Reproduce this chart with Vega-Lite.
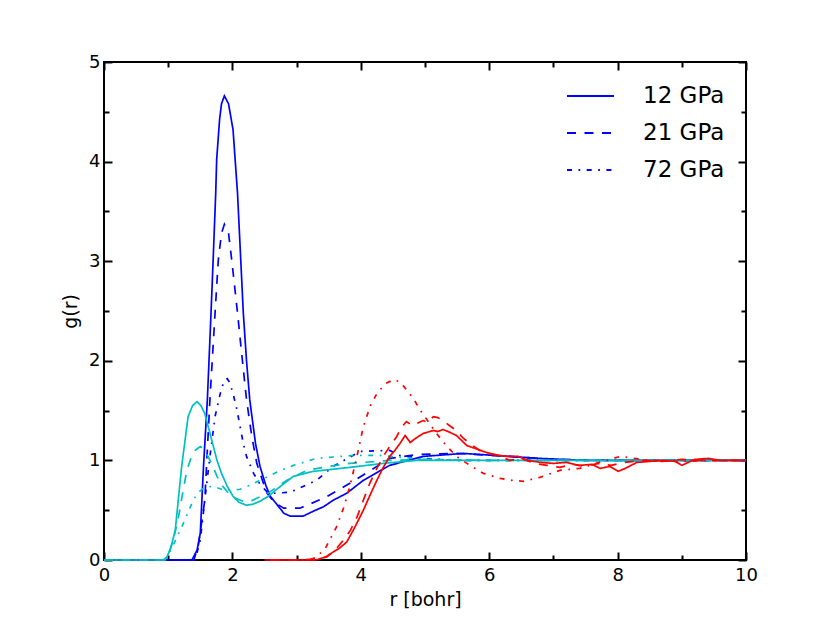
{
  "$schema": "https://vega.github.io/schema/vega-lite/v6.json",
  "description": "Radial distribution functions g(r) at three pressures",
  "width": 642,
  "height": 498,
  "autosize": {"type": "none"},
  "padding": {"left": 104, "top": 62, "right": 84, "bottom": 63},
  "config": {
    "font": "DejaVu Sans",
    "view": {"stroke": "black", "strokeWidth": 2},
    "axis": {
      "grid": false,
      "domain": false,
      "tickColor": "black",
      "tickWidth": 2,
      "labelColor": "black",
      "labelFontSize": 18,
      "labelFlush": false,
      "labelOverlap": false,
      "titleColor": "black",
      "titleFontSize": 19,
      "titleFontWeight": "normal"
    }
  },
  "data": {
    "values": [
      {"group": "blue", "pressure": "12 GPa", "r": 0, "g": 0},
      {"group": "blue", "pressure": "12 GPa", "r": 1.37, "g": 0},
      {"group": "blue", "pressure": "12 GPa", "r": 1.45, "g": 0.1},
      {"group": "blue", "pressure": "12 GPa", "r": 1.5, "g": 0.27},
      {"group": "blue", "pressure": "12 GPa", "r": 1.55, "g": 0.94},
      {"group": "blue", "pressure": "12 GPa", "r": 1.61, "g": 1.61},
      {"group": "blue", "pressure": "12 GPa", "r": 1.667, "g": 2.48},
      {"group": "blue", "pressure": "12 GPa", "r": 1.7, "g": 3.01},
      {"group": "blue", "pressure": "12 GPa", "r": 1.74, "g": 3.68},
      {"group": "blue", "pressure": "12 GPa", "r": 1.755, "g": 4.02},
      {"group": "blue", "pressure": "12 GPa", "r": 1.8, "g": 4.42},
      {"group": "blue", "pressure": "12 GPa", "r": 1.83, "g": 4.58},
      {"group": "blue", "pressure": "12 GPa", "r": 1.875, "g": 4.66},
      {"group": "blue", "pressure": "12 GPa", "r": 1.94, "g": 4.58},
      {"group": "blue", "pressure": "12 GPa", "r": 2.01, "g": 4.32},
      {"group": "blue", "pressure": "12 GPa", "r": 2.08, "g": 3.68},
      {"group": "blue", "pressure": "12 GPa", "r": 2.17, "g": 2.48},
      {"group": "blue", "pressure": "12 GPa", "r": 2.22, "g": 2.0},
      {"group": "blue", "pressure": "12 GPa", "r": 2.27, "g": 1.61},
      {"group": "blue", "pressure": "12 GPa", "r": 2.36, "g": 1.17},
      {"group": "blue", "pressure": "12 GPa", "r": 2.43, "g": 0.94},
      {"group": "blue", "pressure": "12 GPa", "r": 2.52, "g": 0.75},
      {"group": "blue", "pressure": "12 GPa", "r": 2.59, "g": 0.64},
      {"group": "blue", "pressure": "12 GPa", "r": 2.74, "g": 0.52},
      {"group": "blue", "pressure": "12 GPa", "r": 2.8, "g": 0.47},
      {"group": "blue", "pressure": "12 GPa", "r": 2.9, "g": 0.44},
      {"group": "blue", "pressure": "12 GPa", "r": 3.1, "g": 0.44},
      {"group": "blue", "pressure": "12 GPa", "r": 3.26, "g": 0.49},
      {"group": "blue", "pressure": "12 GPa", "r": 3.42, "g": 0.535},
      {"group": "blue", "pressure": "12 GPa", "r": 3.57, "g": 0.6},
      {"group": "blue", "pressure": "12 GPa", "r": 3.78, "g": 0.67},
      {"group": "blue", "pressure": "12 GPa", "r": 4.04, "g": 0.8},
      {"group": "blue", "pressure": "12 GPa", "r": 4.45, "g": 0.95},
      {"group": "blue", "pressure": "12 GPa", "r": 4.97, "g": 1.04},
      {"group": "blue", "pressure": "12 GPa", "r": 5.6, "g": 1.07},
      {"group": "blue", "pressure": "12 GPa", "r": 6.32, "g": 1.04},
      {"group": "blue", "pressure": "12 GPa", "r": 6.8, "g": 1.02},
      {"group": "blue", "pressure": "12 GPa", "r": 7.5, "g": 1.0},
      {"group": "blue", "pressure": "12 GPa", "r": 8.5, "g": 1.0},
      {"group": "blue", "pressure": "12 GPa", "r": 10, "g": 1.0},

      {"group": "blue", "pressure": "21 GPa", "r": 0, "g": 0},
      {"group": "blue", "pressure": "21 GPa", "r": 1.4, "g": 0},
      {"group": "blue", "pressure": "21 GPa", "r": 1.47, "g": 0.15},
      {"group": "blue", "pressure": "21 GPa", "r": 1.57, "g": 0.6},
      {"group": "blue", "pressure": "21 GPa", "r": 1.65, "g": 1.61},
      {"group": "blue", "pressure": "21 GPa", "r": 1.73, "g": 2.48},
      {"group": "blue", "pressure": "21 GPa", "r": 1.78, "g": 3.01},
      {"group": "blue", "pressure": "21 GPa", "r": 1.83, "g": 3.28},
      {"group": "blue", "pressure": "21 GPa", "r": 1.875, "g": 3.37},
      {"group": "blue", "pressure": "21 GPa", "r": 1.94, "g": 3.28},
      {"group": "blue", "pressure": "21 GPa", "r": 1.99, "g": 3.01},
      {"group": "blue", "pressure": "21 GPa", "r": 2.08, "g": 2.48},
      {"group": "blue", "pressure": "21 GPa", "r": 2.14, "g": 2.1},
      {"group": "blue", "pressure": "21 GPa", "r": 2.22, "g": 1.61},
      {"group": "blue", "pressure": "21 GPa", "r": 2.3, "g": 1.25},
      {"group": "blue", "pressure": "21 GPa", "r": 2.38, "g": 0.97},
      {"group": "blue", "pressure": "21 GPa", "r": 2.53, "g": 0.68},
      {"group": "blue", "pressure": "21 GPa", "r": 2.65, "g": 0.58},
      {"group": "blue", "pressure": "21 GPa", "r": 2.8, "g": 0.52},
      {"group": "blue", "pressure": "21 GPa", "r": 3.05, "g": 0.52},
      {"group": "blue", "pressure": "21 GPa", "r": 3.2, "g": 0.56},
      {"group": "blue", "pressure": "21 GPa", "r": 3.47, "g": 0.635},
      {"group": "blue", "pressure": "21 GPa", "r": 3.83, "g": 0.77},
      {"group": "blue", "pressure": "21 GPa", "r": 4.25, "g": 0.94},
      {"group": "blue", "pressure": "21 GPa", "r": 4.45, "g": 1.02},
      {"group": "blue", "pressure": "21 GPa", "r": 4.9, "g": 1.06},
      {"group": "blue", "pressure": "21 GPa", "r": 5.5, "g": 1.07},
      {"group": "blue", "pressure": "21 GPa", "r": 6.3, "g": 1.04},
      {"group": "blue", "pressure": "21 GPa", "r": 7.0, "g": 1.01},
      {"group": "blue", "pressure": "21 GPa", "r": 8.0, "g": 1.0},
      {"group": "blue", "pressure": "21 GPa", "r": 10, "g": 1.0},

      {"group": "blue", "pressure": "72 GPa", "r": 0, "g": 0},
      {"group": "blue", "pressure": "72 GPa", "r": 1.42, "g": 0},
      {"group": "blue", "pressure": "72 GPa", "r": 1.5, "g": 0.2},
      {"group": "blue", "pressure": "72 GPa", "r": 1.57, "g": 0.6},
      {"group": "blue", "pressure": "72 GPa", "r": 1.65, "g": 1.04},
      {"group": "blue", "pressure": "72 GPa", "r": 1.73, "g": 1.44},
      {"group": "blue", "pressure": "72 GPa", "r": 1.81, "g": 1.67},
      {"group": "blue", "pressure": "72 GPa", "r": 1.87, "g": 1.8},
      {"group": "blue", "pressure": "72 GPa", "r": 1.92, "g": 1.82},
      {"group": "blue", "pressure": "72 GPa", "r": 1.96, "g": 1.78},
      {"group": "blue", "pressure": "72 GPa", "r": 2.01, "g": 1.67},
      {"group": "blue", "pressure": "72 GPa", "r": 2.07, "g": 1.51},
      {"group": "blue", "pressure": "72 GPa", "r": 2.12, "g": 1.34},
      {"group": "blue", "pressure": "72 GPa", "r": 2.17, "g": 1.17},
      {"group": "blue", "pressure": "72 GPa", "r": 2.22, "g": 1.04},
      {"group": "blue", "pressure": "72 GPa", "r": 2.33, "g": 0.87},
      {"group": "blue", "pressure": "72 GPa", "r": 2.43, "g": 0.76},
      {"group": "blue", "pressure": "72 GPa", "r": 2.53, "g": 0.69},
      {"group": "blue", "pressure": "72 GPa", "r": 2.64, "g": 0.67},
      {"group": "blue", "pressure": "72 GPa", "r": 2.9, "g": 0.68},
      {"group": "blue", "pressure": "72 GPa", "r": 3.31, "g": 0.8},
      {"group": "blue", "pressure": "72 GPa", "r": 3.57, "g": 0.94},
      {"group": "blue", "pressure": "72 GPa", "r": 3.99, "g": 1.09},
      {"group": "blue", "pressure": "72 GPa", "r": 4.45, "g": 1.1},
      {"group": "blue", "pressure": "72 GPa", "r": 4.6, "g": 1.05},
      {"group": "blue", "pressure": "72 GPa", "r": 5.0, "g": 1.02},
      {"group": "blue", "pressure": "72 GPa", "r": 5.5, "g": 1.0},
      {"group": "blue", "pressure": "72 GPa", "r": 6.5, "g": 1.0},
      {"group": "blue", "pressure": "72 GPa", "r": 6.7, "g": 1.02},
      {"group": "blue", "pressure": "72 GPa", "r": 7.0, "g": 1.0},
      {"group": "blue", "pressure": "72 GPa", "r": 10, "g": 1.0},

      {"group": "cyan", "pressure": "12 GPa", "r": 0, "g": 0},
      {"group": "cyan", "pressure": "12 GPa", "r": 0.92, "g": 0},
      {"group": "cyan", "pressure": "12 GPa", "r": 0.98, "g": 0.03},
      {"group": "cyan", "pressure": "12 GPa", "r": 1.04, "g": 0.12},
      {"group": "cyan", "pressure": "12 GPa", "r": 1.11, "g": 0.3},
      {"group": "cyan", "pressure": "12 GPa", "r": 1.21, "g": 0.94},
      {"group": "cyan", "pressure": "12 GPa", "r": 1.31, "g": 1.44},
      {"group": "cyan", "pressure": "12 GPa", "r": 1.38, "g": 1.55},
      {"group": "cyan", "pressure": "12 GPa", "r": 1.45, "g": 1.59},
      {"group": "cyan", "pressure": "12 GPa", "r": 1.51, "g": 1.55},
      {"group": "cyan", "pressure": "12 GPa", "r": 1.57, "g": 1.47},
      {"group": "cyan", "pressure": "12 GPa", "r": 1.68, "g": 1.2},
      {"group": "cyan", "pressure": "12 GPa", "r": 1.76, "g": 1.0},
      {"group": "cyan", "pressure": "12 GPa", "r": 1.83, "g": 0.87},
      {"group": "cyan", "pressure": "12 GPa", "r": 1.92, "g": 0.74},
      {"group": "cyan", "pressure": "12 GPa", "r": 2.01, "g": 0.64},
      {"group": "cyan", "pressure": "12 GPa", "r": 2.1, "g": 0.58},
      {"group": "cyan", "pressure": "12 GPa", "r": 2.22, "g": 0.55},
      {"group": "cyan", "pressure": "12 GPa", "r": 2.32, "g": 0.56},
      {"group": "cyan", "pressure": "12 GPa", "r": 2.43, "g": 0.59},
      {"group": "cyan", "pressure": "12 GPa", "r": 2.56, "g": 0.64},
      {"group": "cyan", "pressure": "12 GPa", "r": 2.69, "g": 0.71},
      {"group": "cyan", "pressure": "12 GPa", "r": 2.95, "g": 0.84},
      {"group": "cyan", "pressure": "12 GPa", "r": 3.26, "g": 0.89},
      {"group": "cyan", "pressure": "12 GPa", "r": 3.83, "g": 0.93},
      {"group": "cyan", "pressure": "12 GPa", "r": 4.35, "g": 0.97},
      {"group": "cyan", "pressure": "12 GPa", "r": 4.87, "g": 1.0},
      {"group": "cyan", "pressure": "12 GPa", "r": 6.5, "g": 1.0},
      {"group": "cyan", "pressure": "12 GPa", "r": 10, "g": 1.0},

      {"group": "cyan", "pressure": "21 GPa", "r": 0, "g": 0},
      {"group": "cyan", "pressure": "21 GPa", "r": 0.95, "g": 0},
      {"group": "cyan", "pressure": "21 GPa", "r": 1.0, "g": 0.05},
      {"group": "cyan", "pressure": "21 GPa", "r": 1.08, "g": 0.2},
      {"group": "cyan", "pressure": "21 GPa", "r": 1.16, "g": 0.43},
      {"group": "cyan", "pressure": "21 GPa", "r": 1.22, "g": 0.65},
      {"group": "cyan", "pressure": "21 GPa", "r": 1.29, "g": 0.9},
      {"group": "cyan", "pressure": "21 GPa", "r": 1.37, "g": 1.05},
      {"group": "cyan", "pressure": "21 GPa", "r": 1.42, "g": 1.1},
      {"group": "cyan", "pressure": "21 GPa", "r": 1.5, "g": 1.14},
      {"group": "cyan", "pressure": "21 GPa", "r": 1.56, "g": 1.11},
      {"group": "cyan", "pressure": "21 GPa", "r": 1.62, "g": 1.04},
      {"group": "cyan", "pressure": "21 GPa", "r": 1.69, "g": 0.95},
      {"group": "cyan", "pressure": "21 GPa", "r": 1.76, "g": 0.84},
      {"group": "cyan", "pressure": "21 GPa", "r": 1.85, "g": 0.74},
      {"group": "cyan", "pressure": "21 GPa", "r": 1.94, "g": 0.67},
      {"group": "cyan", "pressure": "21 GPa", "r": 2.05, "g": 0.62},
      {"group": "cyan", "pressure": "21 GPa", "r": 2.17, "g": 0.59},
      {"group": "cyan", "pressure": "21 GPa", "r": 2.27, "g": 0.585},
      {"group": "cyan", "pressure": "21 GPa", "r": 2.38, "g": 0.62},
      {"group": "cyan", "pressure": "21 GPa", "r": 2.53, "g": 0.66},
      {"group": "cyan", "pressure": "21 GPa", "r": 2.69, "g": 0.73},
      {"group": "cyan", "pressure": "21 GPa", "r": 2.85, "g": 0.8},
      {"group": "cyan", "pressure": "21 GPa", "r": 3.16, "g": 0.9},
      {"group": "cyan", "pressure": "21 GPa", "r": 3.5, "g": 0.94},
      {"group": "cyan", "pressure": "21 GPa", "r": 3.83, "g": 0.97},
      {"group": "cyan", "pressure": "21 GPa", "r": 4.45, "g": 1.0},
      {"group": "cyan", "pressure": "21 GPa", "r": 5.0, "g": 1.01},
      {"group": "cyan", "pressure": "21 GPa", "r": 6.0, "g": 1.0},
      {"group": "cyan", "pressure": "21 GPa", "r": 10, "g": 1.0},

      {"group": "cyan", "pressure": "72 GPa", "r": 0, "g": 0},
      {"group": "cyan", "pressure": "72 GPa", "r": 0.95, "g": 0},
      {"group": "cyan", "pressure": "72 GPa", "r": 1.0, "g": 0.05},
      {"group": "cyan", "pressure": "72 GPa", "r": 1.1, "g": 0.18},
      {"group": "cyan", "pressure": "72 GPa", "r": 1.21, "g": 0.33},
      {"group": "cyan", "pressure": "72 GPa", "r": 1.31, "g": 0.48},
      {"group": "cyan", "pressure": "72 GPa", "r": 1.39, "g": 0.6},
      {"group": "cyan", "pressure": "72 GPa", "r": 1.47, "g": 0.68},
      {"group": "cyan", "pressure": "72 GPa", "r": 1.57, "g": 0.73},
      {"group": "cyan", "pressure": "72 GPa", "r": 1.7, "g": 0.74},
      {"group": "cyan", "pressure": "72 GPa", "r": 1.83, "g": 0.71},
      {"group": "cyan", "pressure": "72 GPa", "r": 1.97, "g": 0.7},
      {"group": "cyan", "pressure": "72 GPa", "r": 2.12, "g": 0.71},
      {"group": "cyan", "pressure": "72 GPa", "r": 2.27, "g": 0.75},
      {"group": "cyan", "pressure": "72 GPa", "r": 2.43, "g": 0.8},
      {"group": "cyan", "pressure": "72 GPa", "r": 2.53, "g": 0.83},
      {"group": "cyan", "pressure": "72 GPa", "r": 2.72, "g": 0.89},
      {"group": "cyan", "pressure": "72 GPa", "r": 2.95, "g": 0.95},
      {"group": "cyan", "pressure": "72 GPa", "r": 3.31, "g": 1.02},
      {"group": "cyan", "pressure": "72 GPa", "r": 3.88, "g": 1.05},
      {"group": "cyan", "pressure": "72 GPa", "r": 4.3, "g": 1.05},
      {"group": "cyan", "pressure": "72 GPa", "r": 4.8, "g": 1.02},
      {"group": "cyan", "pressure": "72 GPa", "r": 5.5, "g": 1.0},
      {"group": "cyan", "pressure": "72 GPa", "r": 10, "g": 1.0},

      {"group": "red", "pressure": "72 GPa", "r": 2.6, "g": 0},
      {"group": "red", "pressure": "72 GPa", "r": 3.2, "g": 0},
      {"group": "red", "pressure": "72 GPa", "r": 3.31, "g": 0.03},
      {"group": "red", "pressure": "72 GPa", "r": 3.45, "g": 0.12},
      {"group": "red", "pressure": "72 GPa", "r": 3.62, "g": 0.33},
      {"group": "red", "pressure": "72 GPa", "r": 3.73, "g": 0.52},
      {"group": "red", "pressure": "72 GPa", "r": 3.83, "g": 0.74},
      {"group": "red", "pressure": "72 GPa", "r": 3.94, "g": 1.04},
      {"group": "red", "pressure": "72 GPa", "r": 4.04, "g": 1.34},
      {"group": "red", "pressure": "72 GPa", "r": 4.15, "g": 1.55},
      {"group": "red", "pressure": "72 GPa", "r": 4.25, "g": 1.67},
      {"group": "red", "pressure": "72 GPa", "r": 4.38, "g": 1.77},
      {"group": "red", "pressure": "72 GPa", "r": 4.51, "g": 1.81},
      {"group": "red", "pressure": "72 GPa", "r": 4.61, "g": 1.79},
      {"group": "red", "pressure": "72 GPa", "r": 4.71, "g": 1.71},
      {"group": "red", "pressure": "72 GPa", "r": 4.82, "g": 1.62},
      {"group": "red", "pressure": "72 GPa", "r": 4.92, "g": 1.51},
      {"group": "red", "pressure": "72 GPa", "r": 5.05, "g": 1.39},
      {"group": "red", "pressure": "72 GPa", "r": 5.18, "g": 1.27},
      {"group": "red", "pressure": "72 GPa", "r": 5.33, "g": 1.15},
      {"group": "red", "pressure": "72 GPa", "r": 5.49, "g": 1.04},
      {"group": "red", "pressure": "72 GPa", "r": 5.7, "g": 0.95},
      {"group": "red", "pressure": "72 GPa", "r": 5.91, "g": 0.87},
      {"group": "red", "pressure": "72 GPa", "r": 6.17, "g": 0.82},
      {"group": "red", "pressure": "72 GPa", "r": 6.35, "g": 0.8},
      {"group": "red", "pressure": "72 GPa", "r": 6.53, "g": 0.79},
      {"group": "red", "pressure": "72 GPa", "r": 6.79, "g": 0.83},
      {"group": "red", "pressure": "72 GPa", "r": 7.1, "g": 0.9},
      {"group": "red", "pressure": "72 GPa", "r": 7.41, "g": 0.92},
      {"group": "red", "pressure": "72 GPa", "r": 7.77, "g": 0.99},
      {"group": "red", "pressure": "72 GPa", "r": 8.04, "g": 1.04},
      {"group": "red", "pressure": "72 GPa", "r": 8.5, "g": 1.0},
      {"group": "red", "pressure": "72 GPa", "r": 9.0, "g": 0.99},
      {"group": "red", "pressure": "72 GPa", "r": 9.5, "g": 1.0},
      {"group": "red", "pressure": "72 GPa", "r": 10, "g": 1.0},

      {"group": "red", "pressure": "21 GPa", "r": 2.6, "g": 0},
      {"group": "red", "pressure": "21 GPa", "r": 3.05, "g": 0},
      {"group": "red", "pressure": "21 GPa", "r": 3.3, "g": 0.01},
      {"group": "red", "pressure": "21 GPa", "r": 3.47, "g": 0.03},
      {"group": "red", "pressure": "21 GPa", "r": 3.6, "g": 0.1},
      {"group": "red", "pressure": "21 GPa", "r": 3.73, "g": 0.2},
      {"group": "red", "pressure": "21 GPa", "r": 3.84, "g": 0.3},
      {"group": "red", "pressure": "21 GPa", "r": 3.94, "g": 0.43},
      {"group": "red", "pressure": "21 GPa", "r": 4.04, "g": 0.6},
      {"group": "red", "pressure": "21 GPa", "r": 4.14, "g": 0.77},
      {"group": "red", "pressure": "21 GPa", "r": 4.25, "g": 0.92},
      {"group": "red", "pressure": "21 GPa", "r": 4.35, "g": 1.04},
      {"group": "red", "pressure": "21 GPa", "r": 4.45, "g": 1.14},
      {"group": "red", "pressure": "21 GPa", "r": 4.56, "g": 1.24},
      {"group": "red", "pressure": "21 GPa", "r": 4.63, "g": 1.33},
      {"group": "red", "pressure": "21 GPa", "r": 4.71, "g": 1.39},
      {"group": "red", "pressure": "21 GPa", "r": 4.8, "g": 1.35},
      {"group": "red", "pressure": "21 GPa", "r": 4.87, "g": 1.37},
      {"group": "red", "pressure": "21 GPa", "r": 4.97, "g": 1.4},
      {"group": "red", "pressure": "21 GPa", "r": 5.05, "g": 1.38},
      {"group": "red", "pressure": "21 GPa", "r": 5.13, "g": 1.44},
      {"group": "red", "pressure": "21 GPa", "r": 5.2, "g": 1.43},
      {"group": "red", "pressure": "21 GPa", "r": 5.28, "g": 1.4},
      {"group": "red", "pressure": "21 GPa", "r": 5.38, "g": 1.35},
      {"group": "red", "pressure": "21 GPa", "r": 5.49, "g": 1.3},
      {"group": "red", "pressure": "21 GPa", "r": 5.6, "g": 1.22},
      {"group": "red", "pressure": "21 GPa", "r": 5.7, "g": 1.17},
      {"group": "red", "pressure": "21 GPa", "r": 5.85, "g": 1.1},
      {"group": "red", "pressure": "21 GPa", "r": 6.01, "g": 1.07},
      {"group": "red", "pressure": "21 GPa", "r": 6.15, "g": 1.05},
      {"group": "red", "pressure": "21 GPa", "r": 6.32, "g": 1.0},
      {"group": "red", "pressure": "21 GPa", "r": 6.5, "g": 1.02},
      {"group": "red", "pressure": "21 GPa", "r": 6.7, "g": 0.97},
      {"group": "red", "pressure": "21 GPa", "r": 6.9, "g": 0.95},
      {"group": "red", "pressure": "21 GPa", "r": 7.1, "g": 0.93},
      {"group": "red", "pressure": "21 GPa", "r": 7.3, "g": 0.96},
      {"group": "red", "pressure": "21 GPa", "r": 7.5, "g": 0.94},
      {"group": "red", "pressure": "21 GPa", "r": 7.7, "g": 0.97},
      {"group": "red", "pressure": "21 GPa", "r": 7.9, "g": 0.95},
      {"group": "red", "pressure": "21 GPa", "r": 8.1, "g": 0.98},
      {"group": "red", "pressure": "21 GPa", "r": 8.4, "g": 1.0},
      {"group": "red", "pressure": "21 GPa", "r": 8.7, "g": 0.99},
      {"group": "red", "pressure": "21 GPa", "r": 9.0, "g": 1.01},
      {"group": "red", "pressure": "21 GPa", "r": 9.3, "g": 1.0},
      {"group": "red", "pressure": "21 GPa", "r": 10, "g": 1.0},

      {"group": "red", "pressure": "12 GPa", "r": 2.5, "g": 0},
      {"group": "red", "pressure": "12 GPa", "r": 3.3, "g": 0},
      {"group": "red", "pressure": "12 GPa", "r": 3.45, "g": 0.03},
      {"group": "red", "pressure": "12 GPa", "r": 3.57, "g": 0.08},
      {"group": "red", "pressure": "12 GPa", "r": 3.67, "g": 0.12},
      {"group": "red", "pressure": "12 GPa", "r": 3.78, "g": 0.18},
      {"group": "red", "pressure": "12 GPa", "r": 3.9, "g": 0.32},
      {"group": "red", "pressure": "12 GPa", "r": 4.04, "g": 0.5},
      {"group": "red", "pressure": "12 GPa", "r": 4.15, "g": 0.66},
      {"group": "red", "pressure": "12 GPa", "r": 4.25, "g": 0.8},
      {"group": "red", "pressure": "12 GPa", "r": 4.35, "g": 0.93},
      {"group": "red", "pressure": "12 GPa", "r": 4.45, "g": 1.04},
      {"group": "red", "pressure": "12 GPa", "r": 4.53, "g": 1.1},
      {"group": "red", "pressure": "12 GPa", "r": 4.61, "g": 1.17},
      {"group": "red", "pressure": "12 GPa", "r": 4.69, "g": 1.25},
      {"group": "red", "pressure": "12 GPa", "r": 4.77, "g": 1.18},
      {"group": "red", "pressure": "12 GPa", "r": 4.85, "g": 1.22},
      {"group": "red", "pressure": "12 GPa", "r": 4.97, "g": 1.27},
      {"group": "red", "pressure": "12 GPa", "r": 5.13, "g": 1.3},
      {"group": "red", "pressure": "12 GPa", "r": 5.2, "g": 1.29},
      {"group": "red", "pressure": "12 GPa", "r": 5.28, "g": 1.31},
      {"group": "red", "pressure": "12 GPa", "r": 5.36, "g": 1.29},
      {"group": "red", "pressure": "12 GPa", "r": 5.49, "g": 1.25},
      {"group": "red", "pressure": "12 GPa", "r": 5.57, "g": 1.2},
      {"group": "red", "pressure": "12 GPa", "r": 5.65, "g": 1.15},
      {"group": "red", "pressure": "12 GPa", "r": 5.78, "g": 1.12},
      {"group": "red", "pressure": "12 GPa", "r": 5.91, "g": 1.09},
      {"group": "red", "pressure": "12 GPa", "r": 6.05, "g": 1.06},
      {"group": "red", "pressure": "12 GPa", "r": 6.27, "g": 1.04},
      {"group": "red", "pressure": "12 GPa", "r": 6.45, "g": 1.04},
      {"group": "red", "pressure": "12 GPa", "r": 6.6, "g": 1.0},
      {"group": "red", "pressure": "12 GPa", "r": 6.8, "g": 0.98},
      {"group": "red", "pressure": "12 GPa", "r": 7.0, "g": 0.97},
      {"group": "red", "pressure": "12 GPa", "r": 7.2, "g": 0.98},
      {"group": "red", "pressure": "12 GPa", "r": 7.4, "g": 0.95},
      {"group": "red", "pressure": "12 GPa", "r": 7.6, "g": 0.96},
      {"group": "red", "pressure": "12 GPa", "r": 7.73, "g": 0.92},
      {"group": "red", "pressure": "12 GPa", "r": 7.88, "g": 0.94},
      {"group": "red", "pressure": "12 GPa", "r": 8.01, "g": 0.89},
      {"group": "red", "pressure": "12 GPa", "r": 8.12, "g": 0.92},
      {"group": "red", "pressure": "12 GPa", "r": 8.3, "g": 0.98},
      {"group": "red", "pressure": "12 GPa", "r": 8.5, "g": 0.99},
      {"group": "red", "pressure": "12 GPa", "r": 8.7, "g": 1.0},
      {"group": "red", "pressure": "12 GPa", "r": 8.9, "g": 0.99},
      {"group": "red", "pressure": "12 GPa", "r": 9.0, "g": 0.95},
      {"group": "red", "pressure": "12 GPa", "r": 9.1, "g": 0.98},
      {"group": "red", "pressure": "12 GPa", "r": 9.2, "g": 1.01},
      {"group": "red", "pressure": "12 GPa", "r": 9.41, "g": 1.02},
      {"group": "red", "pressure": "12 GPa", "r": 9.6, "g": 1.0},
      {"group": "red", "pressure": "12 GPa", "r": 10, "g": 1.0}
    ]
  },
  "resolve": {"axis": {"x": "independent", "y": "independent"}},
  "layer": [
    {
      "mark": {"type": "line", "strokeWidth": 1.7},
      "encoding": {
        "x": {
          "field": "r",
          "type": "quantitative",
          "scale": {"domain": [0, 10], "nice": false},
          "axis": {
            "orient": "bottom",
            "title": "r [bohr]",
            "values": [0, 2, 4, 6, 8, 10],
            "ticks": false,
            "tickSize": 0,
            "labelPadding": 6,
            "titlePadding": 6
          }
        },
        "y": {
          "field": "g",
          "type": "quantitative",
          "scale": {"domain": [0, 5], "nice": false},
          "axis": {
            "orient": "left",
            "title": "g(r)",
            "values": [0, 1, 2, 3, 4, 5],
            "format": "d",
            "ticks": false,
            "tickSize": 0,
            "labelPadding": 4,
            "titlePadding": 8
          }
        },
        "color": {
          "field": "group",
          "type": "nominal",
          "scale": {"domain": ["blue", "cyan", "red"], "range": ["#0000ff", "#00bfbf", "#ff0000"]},
          "legend": null
        },
        "strokeDash": {
          "field": "pressure",
          "type": "nominal",
          "scale": {"domain": ["12 GPa", "21 GPa", "72 GPa"], "range": [[1, 0], [9, 8.5], [5, 6.5, 1.7, 6.5]]},
          "legend": {
            "title": null,
            "orient": "none",
            "legendX": 462,
            "legendY": 9.5,
            "symbolType": "stroke",
            "symbolSize": 2209,
            "symbolStrokeColor": "#0000ff",
            "symbolStrokeWidth": 1.8,
            "labelFontSize": 23,
            "labelColor": "black",
            "labelOffset": 28,
            "rowPadding": -11.5
          }
        }
      }
    },
    {
      "mark": {"type": "line", "strokeOpacity": 0},
      "encoding": {
        "x": {
          "field": "r",
          "type": "quantitative",
          "scale": {"domain": [0, 10], "nice": false},
          "axis": {"orient": "top", "offset": -498, "title": null, "labels": false, "values": [0, 2, 4, 6, 8, 10], "tickSize": 8}
        },
        "y": {
          "field": "g",
          "type": "quantitative",
          "scale": {"domain": [0, 5], "nice": false},
          "axis": {"orient": "right", "offset": -642, "title": null, "labels": false, "values": [0, 1, 2, 3, 4, 5], "tickSize": 8}
        }
      }
    },
    {
      "mark": {"type": "line", "strokeOpacity": 0},
      "encoding": {
        "x": {
          "field": "r",
          "type": "quantitative",
          "scale": {"domain": [0, 10], "nice": false},
          "axis": {"orient": "top", "offset": -498, "title": null, "labels": false, "values": [1, 3, 5, 7, 9], "tickSize": 5}
        },
        "y": {
          "field": "g",
          "type": "quantitative",
          "scale": {"domain": [0, 5], "nice": false},
          "axis": {"orient": "right", "offset": -642, "title": null, "labels": false, "values": [0.5, 1.5, 2.5, 3.5, 4.5], "tickSize": 5}
        }
      }
    },
    {
      "mark": {"type": "line", "strokeOpacity": 0},
      "encoding": {
        "x": {
          "field": "r",
          "type": "quantitative",
          "scale": {"domain": [0, 10], "nice": false},
          "axis": {"orient": "bottom", "offset": -498, "title": null, "labels": false, "values": [0, 2, 4, 6, 8, 10], "tickSize": 8}
        },
        "y": {
          "field": "g",
          "type": "quantitative",
          "scale": {"domain": [0, 5], "nice": false},
          "axis": {"orient": "left", "offset": -642, "title": null, "labels": false, "values": [0, 1, 2, 3, 4, 5], "tickSize": 8}
        }
      }
    },
    {
      "mark": {"type": "line", "strokeOpacity": 0},
      "encoding": {
        "x": {
          "field": "r",
          "type": "quantitative",
          "scale": {"domain": [0, 10], "nice": false},
          "axis": {"orient": "bottom", "offset": -498, "title": null, "labels": false, "values": [1, 3, 5, 7, 9], "tickSize": 5}
        },
        "y": {
          "field": "g",
          "type": "quantitative",
          "scale": {"domain": [0, 5], "nice": false},
          "axis": {"orient": "left", "offset": -642, "title": null, "labels": false, "values": [0.5, 1.5, 2.5, 3.5, 4.5], "tickSize": 5}
        }
      }
    }
  ]
}
